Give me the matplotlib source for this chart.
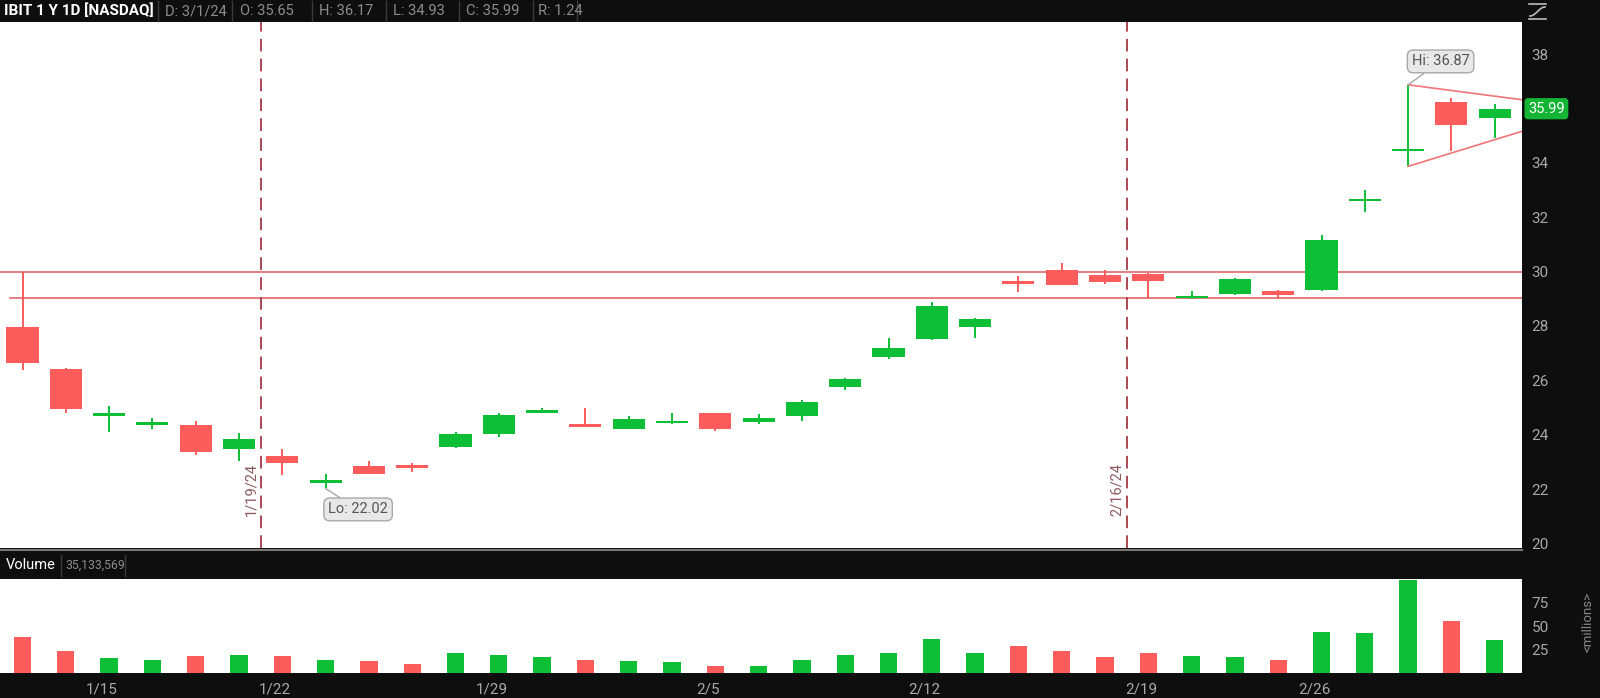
import numpy as np
import matplotlib.pyplot as plt
from matplotlib.lines import Line2D
from matplotlib.transforms import blended_transform_factory

plt.rcParams['font.family'] = ['Roboto', 'DejaVu Sans']

# trading days (IBIT daily)
dates = ["1/11", "1/12", "1/16", "1/17", "1/18", "1/19", "1/22", "1/23", "1/24", "1/25",
         "1/26", "1/29", "1/30", "1/31", "2/1", "2/2", "2/5", "2/6", "2/7", "2/8",
         "2/9", "2/12", "2/13", "2/14", "2/15", "2/16", "2/20", "2/21", "2/22", "2/23",
         "2/26", "2/27", "2/28", "2/29", "3/1"]
opens = [27.97, 26.40, 24.72, 24.40, 24.37, 23.47, 23.20, 22.25, 22.83, 22.87,
         23.55, 24.03, 24.80, 24.37, 24.22, 24.41, 24.78, 24.48, 24.67, 25.76,
         26.85, 27.52, 27.97, 29.61, 30.04, 29.89, 29.92, 29.02, 29.17, 29.29,
         29.32, 32.60, 34.44, 36.23, 35.65]
highs = [30.00, 26.45, 25.05, 24.62, 24.52, 24.07, 23.47, 22.57, 23.02, 22.95,
         24.10, 24.78, 24.97, 24.97, 24.70, 24.78, 24.80, 24.75, 25.27, 26.08,
         27.56, 28.87, 28.30, 29.85, 30.30, 30.04, 29.96, 29.29, 29.76, 29.32,
         31.35, 33.00, 36.87, 36.38, 36.17]
lows = [26.36, 24.80, 24.10, 24.22, 23.25, 23.02, 22.50, 22.02, 22.55, 22.62,
        23.52, 23.92, 24.78, 24.28, 24.20, 24.40, 24.15, 24.40, 24.52, 25.65,
        26.77, 27.50, 27.56, 29.25, 29.50, 29.55, 28.99, 28.98, 29.15, 28.99,
        29.30, 32.18, 33.87, 34.43, 34.93]
closes = [26.62, 24.93, 24.76, 24.44, 23.36, 23.85, 22.95, 22.30, 22.57, 22.76,
          24.03, 24.72, 24.90, 24.30, 24.56, 24.52, 24.22, 24.63, 25.20, 26.06,
          27.19, 28.72, 28.27, 29.57, 29.51, 29.62, 29.66, 29.10, 29.74, 29.14,
          31.16, 32.66, 34.50, 35.40, 35.99]
# volume, millions
volumes = [38.4, 23.2, 15.5, 13.7, 18.3, 19.4, 18.3, 13.7, 12.3, 9.9,
           20.8, 19.4, 16.5, 13.7, 12.3, 11.3, 7.0, 7.0, 13.7, 19.4,
           20.8, 35.9, 21.8, 28.9, 23.2, 16.5, 21.8, 17.6, 16.5, 13.7,
           44.0, 42.3, 98.6, 54.9, 35.1]

xtick_labels = ["1/15", "1/22", "1/29", "2/5", "2/12", "2/19", "2/26"]
xtick_days = ["1/16", "1/22", "1/29", "2/5", "2/12", "2/20", "2/26"]
price_ticks = [20, 22, 24, 26, 28, 30, 32, 34, 38]  # 36 sits under the last-price box
vol_ticks = [25, 50, 75]
levels = [30.0, 29.02]
markers = ["1/19/24", "2/16/24"]
marker_days = ["1/19", "2/16"]

GREEN = '#0dbf36'
RED = '#fc5c5c'
BG = '#0e0e0e'
GRAY = '#a8a8a8'
W, H = 1600, 698

fig = plt.figure(figsize=(16, 6.98), dpi=100, facecolor=BG)


def fx(px):
    return px / W


def fy(py):
    return 1 - py / H


x = np.arange(len(dates))
o = np.array(opens)
c = np.array(closes)
up = c >= o
colors = np.where(up, GREEN, RED)
xmin, xmax = -0.52, 34.63

# price panel
ax = fig.add_axes([0, fy(548), fx(1522), fy(22) - fy(548)], facecolor='white')
ax.set_xlim(xmin, xmax)
ax.set_ylim(19.83, 39.18)

ax.vlines(x, lows, highs, colors=colors, lw=1.4, zorder=3)
body_lo = np.minimum(o, c)
body_h = np.maximum(np.abs(c - o), 0.1)
body_lo = np.where(np.abs(c - o) < 0.1, (o + c) / 2 - 0.05, body_lo)
ax.bar(x, body_h, bottom=body_lo, width=0.74, color=colors, zorder=4)

# support / resistance lines
ax.axhline(levels[0], color='#e25a5c', lw=1.1, zorder=2)
ax.plot([-0.3, xmax], [levels[1]] * 2, color='#e25a5c', lw=1.1, zorder=2)

# triangle
i_hi = int(np.argmax(highs))
ax.plot([i_hi, xmax], [highs[i_hi], 36.32], color='#f07478', lw=1.2, zorder=5)
ax.plot([i_hi, xmax], [lows[i_hi], 35.16], color='#f07478', lw=1.2, zorder=5)

# vertical date markers
for lab, d in zip(markers, marker_days):
    xv = dates.index(d) + 0.5
    ax.axvline(xv, color='#a33a45', lw=1.3, ls=(0, (7, 4)), zorder=2)
    ax.text(xv - 0.22, 22.0, lab, rotation=90, ha='center', va='center',
            color='#8b5a5e', fontsize=10.5)

# hi / lo bubbles
bub = dict(boxstyle='round,pad=0.3,rounding_size=0.4', fc='#e8e8e8', ec='#a8a8a8', lw=1)
ax.annotate("Hi: %.2f" % highs[i_hi], xy=(i_hi, highs[i_hi]), xytext=(i_hi + 0.75, 37.73),
            ha='center', va='center', fontsize=10.5, color='#555555', bbox=bub,
            arrowprops=dict(arrowstyle='-', color='#a8a8a8', lw=1, shrinkA=0, shrinkB=0), zorder=6)
i_lo = int(np.argmin(lows))
ax.annotate("Lo: %.2f" % lows[i_lo], xy=(i_lo, lows[i_lo]), xytext=(i_lo + 0.75, 21.25),
            ha='center', va='center', fontsize=10.5, color='#555555', bbox=bub,
            arrowprops=dict(arrowstyle='-', color='#a8a8a8', lw=1, shrinkA=0, shrinkB=0), zorder=6)

ax.yaxis.tick_right()
ax.set_yticks(price_ticks)
ax.set_yticklabels([str(t) for t in price_ticks])
ax.tick_params(axis='y', colors=GRAY, labelcolor=GRAY, length=0, pad=7, labelsize=11)
ax.set_xticks([])
for s in ax.spines.values():
    s.set_visible(False)

# last price box
tr = blended_transform_factory(ax.transAxes, ax.transData)
ax.text(1.004, closes[-1], "%.2f" % closes[-1], transform=tr, ha='left', va='center',
        color='white', fontsize=10.5,
        bbox=dict(boxstyle='round,pad=0.2', fc='#14b535', ec='#14b535'), zorder=7, clip_on=False)

# volume panel
ax2 = fig.add_axes([0, fy(673), fx(1522), fy(579) - fy(673)], facecolor='white')
ax2.bar(x, volumes, width=0.4, color=colors)
ax2.set_xlim(xmin, xmax)
ax2.set_ylim(0, 100)
ax2.yaxis.tick_right()
ax2.set_yticks(vol_ticks)
ax2.set_yticklabels([str(t) for t in vol_ticks])
ax2.tick_params(axis='y', colors=GRAY, labelcolor=GRAY, length=0, pad=7, labelsize=11)
ax2.set_xticks([dates.index(d) - 0.17 for d in xtick_days])
ax2.set_xticklabels(xtick_labels)
ax2.tick_params(axis='x', colors=GRAY, labelcolor=GRAY, length=0, pad=7, labelsize=11)
for s in ax2.spines.values():
    s.set_visible(False)

fig.text(fx(1588), fy(622), "<millions>", rotation=90, ha='center', va='center',
         color='#8a8a8a', fontsize=9.5)

# header bar
fig.add_artist(Line2D([0, fx(1522)], [fy(549.5)] * 2, color='#777777', lw=1.5))
fig.text(fx(4), fy(11), "IBIT 1 Y 1D [NASDAQ]", color='white', fontsize=11,
         fontweight='bold', va='center', ha='left')
head = ["D: 3/1/24", "O: 35.65", "H: 36.17", "L: 34.93", "C: 35.99", "R: 1.24"]
head_x = [165, 240, 319, 393, 466, 538]
for sx in [158, 232, 312, 386, 459, 533, 577]:
    fig.add_artist(Line2D([fx(sx)] * 2, [fy(1), fy(21)], color='#3a3a3a', lw=1))
for t, hx in zip(head, head_x):
    fig.text(fx(hx), fy(11), t, color='#8c8c8c', fontsize=10.5, va='center', ha='left')

# volume header
fig.text(fx(6), fy(565), "Volume", color='white', fontsize=10.5, va='center', ha='left')
fig.text(fx(65), fy(565), "{:,}".format(35133569), color='#8c8c8c', fontsize=8.8,
         va='center', ha='left')
for sx in [61, 125]:
    fig.add_artist(Line2D([fx(sx)] * 2, [fy(555), fy(576)], color='#3a3a3a', lw=1))

# small icon top right
fig.add_artist(Line2D([fx(1529), fx(1546)], [fy(4)] * 2, color='#bbbbbb', lw=1.2))
fig.add_artist(Line2D([fx(1529), fx(1546)], [fy(19)] * 2, color='#bbbbbb', lw=1.2))
t = np.linspace(0, 1, 30)
fig.add_artist(Line2D(fx(1530 + 15 * t), fy(16 - 9 * (0.5 - 0.5 * np.cos(np.pi * t))),
                      color='#bbbbbb', lw=1.2))

fig.savefig("out.png", dpi=100, facecolor=BG)
